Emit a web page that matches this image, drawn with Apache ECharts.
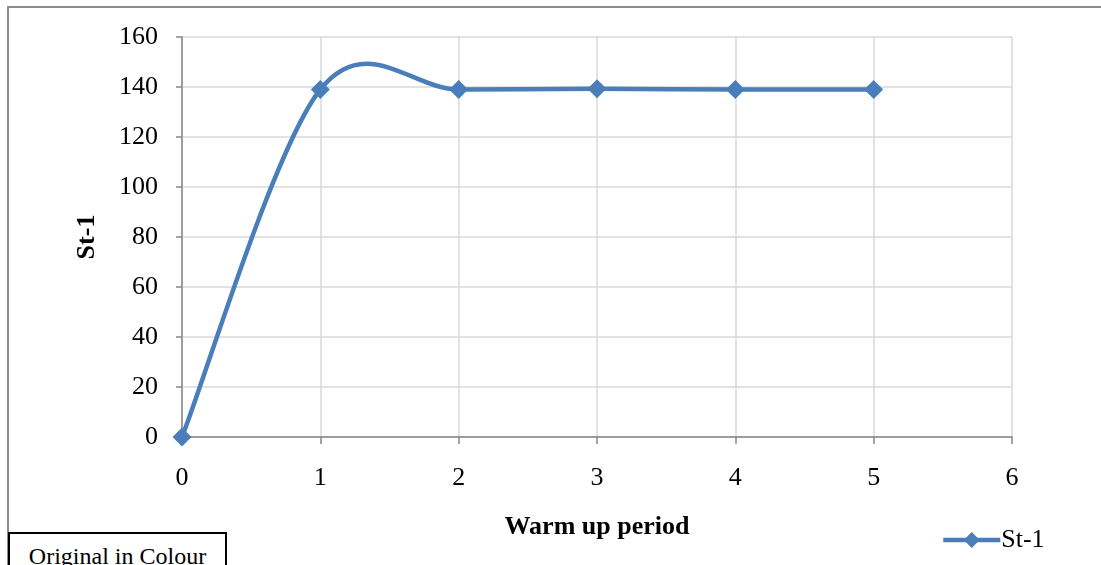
<!DOCTYPE html>
<html><head><meta charset="utf-8">
<script src="https://cdn.jsdelivr.net/npm/echarts@6/dist/echarts.min.js"></script>
<style>html,body{margin:0;padding:0;background:#fff}#c{width:1101px;height:565px;position:relative}
#frame{position:absolute;left:7px;top:6px;width:1200px;height:600px;border:2px solid #8c8c8c;box-sizing:border-box;pointer-events:none}
#note{position:absolute;left:8px;top:532px;width:219px;height:40px;border:2px solid #000;box-sizing:border-box;background:#fff;font-family:'Liberation Serif',serif;font-size:24px;line-height:24px;text-align:center;padding-top:10px;white-space:nowrap}
</style></head>
<body><div id="c"></div><div id="frame"></div><div id="note">Original in Colour</div>
<script>
const xValues = [0, 1, 2, 3, 4, 5];
const st1 = [0, 139, 139, 139.3, 139, 139];
const seriesName = 'St-1';
const xTitle = 'Warm up period';
const yTitle = 'St-1';

const color = '#4a7ebb';
const font = 'Liberation Serif';
const chart = echarts.init(document.getElementById('c'));
const pts = xValues.map((x, i) => [x, st1[i]]);

function renderSeg(params, api) {
  const i = params.dataIndex, n = pts.length;
  if (i >= n - 1) return null;
  const P = k => api.coord(pts[Math.max(0, Math.min(n - 1, k))]);
  const p0 = P(i - 1), p1 = P(i), p2 = P(i + 1), p3 = P(i + 2);
  const t = 1 / 6;
  return {
    type: 'bezierCurve',
    shape: {
      x1: p1[0], y1: p1[1], x2: p2[0], y2: p2[1],
      cpx1: p1[0] + (p2[0] - p0[0]) * t, cpy1: p1[1] + (p2[1] - p0[1]) * t,
      cpx2: p2[0] - (p3[0] - p1[0]) * t, cpy2: p2[1] - (p3[1] - p1[1]) * t
    },
    style: {stroke: color, lineWidth: 4.5, fill: 'none', lineCap: 'round'}
  };
}

chart.setOption({
  animation: false,
  grid: {left: 182, right: 89, top: 37, bottom: 128},
  legend: {
    data: [{name: seriesName, itemStyle: {color: color}}], left: 936, top: 522,
    itemWidth: 57, itemHeight: 20,
    lineStyle: {opacity: 1, width: 4.5, color: color},
    textStyle: {fontFamily: font, fontSize: 26, color: '#000', padding: [0, 0, 0, -4]}
  },
  xAxis: {
    type: 'value', min: 0, max: 6, interval: 1,
    name: xTitle, nameLocation: 'middle', nameGap: 77,
    nameTextStyle: {fontFamily: font, fontSize: 26, fontWeight: 'bold', color: '#000'},
    axisLine: {show: true, lineStyle: {color: '#868686', width: 1.5}},
    axisTick: {show: true, length: 7, lineStyle: {color: '#868686', width: 1.5}},
    axisLabel: {fontFamily: font, fontSize: 26, color: '#000', margin: 28},
    splitLine: {show: true, lineStyle: {color: '#d9d9d9', width: 1.5}}
  },
  yAxis: {
    type: 'value', min: 0, max: 160, interval: 20,
    name: yTitle, nameLocation: 'middle', nameGap: 82, nameRotate: 90,
    nameTextStyle: {fontFamily: font, fontSize: 26, fontWeight: 'bold', color: '#000'},
    axisLine: {show: true, lineStyle: {color: '#868686', width: 1.5}},
    axisTick: {show: true, length: 6, lineStyle: {color: '#868686', width: 1.5}},
    axisLabel: {fontFamily: font, fontSize: 26, color: '#000', margin: 24},
    splitLine: {show: true, lineStyle: {color: '#d9d9d9', width: 1.5}}
  },
  series: [{
    name: 'curve', type: 'custom', data: pts, clip: false, silent: true, z: 2,
    encode: {x: 0, y: 1},
    renderItem: renderSeg
  }, {
    name: seriesName, type: 'line', data: pts, z: 3,
    symbol: 'diamond', symbolSize: 19,
    itemStyle: {color: color},
    lineStyle: {color: color, width: 4.5, opacity: 0}
  }]
});
</script></body></html>
